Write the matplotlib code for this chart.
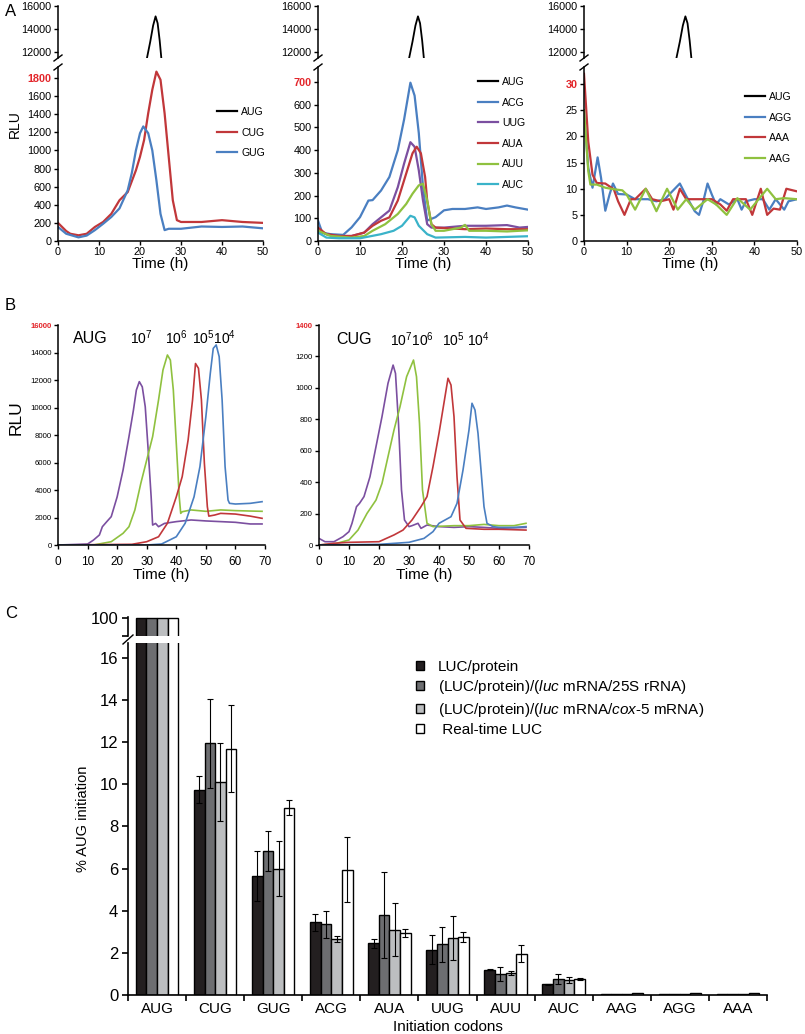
import matplotlib
matplotlib.use('Agg')
import matplotlib.pyplot as plt
from matplotlib.lines import Line2D
import numpy as np

plt.rcParams['font.family'] = ['Liberation Sans', 'DejaVu Sans']
plt.rcParams['mathtext.fontset'] = 'custom'
plt.rcParams['mathtext.rm'] = 'Liberation Sans'
plt.rcParams['mathtext.it'] = 'Liberation Sans:italic'

W, H = 805, 1034

RED = '#c1373a'
BLUE = '#4a7fc1'
PURPLE = '#7b4fa0'
GREEN = '#8fc13f'
CYAN = '#3ab3c9'
TICKRED = '#e3262b'

# ---------------- panel A data ----------------
aug_t = [21.4, 21.7, 22.5, 23.2, 23.8, 24.3, 24.8, 25.2, 25.4]
aug_v = [11000, 11480, 12900, 14300, 15100, 14500, 13000, 11480, 11000]

cug_t = [0, 2, 3, 5, 7, 9, 11, 13, 15, 17, 19, 20, 21, 22, 23, 24, 25, 26, 27, 28, 29, 30, 35, 40, 45, 50]
cug_v = [200, 110, 80, 63, 80, 155, 210, 300, 450, 540, 780, 930, 1115, 1410, 1670, 1870, 1780, 1410, 930, 450, 230, 210, 210, 230, 210, 200]
gug_t = [0, 2, 5, 7, 9, 11, 13, 15, 17, 18, 19, 20, 20.8, 22, 23, 24, 25, 26, 27, 30, 35, 40, 45, 50]
gug_v = [155, 80, 40, 60, 120, 190, 265, 360, 560, 750, 1000, 1190, 1265, 1190, 1000, 670, 300, 120, 135, 135, 160, 155, 160, 140]

acg_t = [0, 1, 3, 6, 8, 10, 12, 13, 15, 17, 19, 20.5, 22, 23, 24, 25, 26, 28, 30, 32, 35, 38, 40, 43, 45, 47, 50]
acg_v = [90, 37, 30, 27, 60, 105, 178, 180, 222, 282, 400, 535, 697, 640, 475, 237, 90, 105, 135, 141, 141, 148, 141, 148, 156, 148, 138]
uug_t = [0, 2, 5, 8, 11, 13, 15, 17, 19, 20.5, 22, 23, 24, 25, 26, 27, 30, 35, 40, 45, 48, 50]
uug_v = [45, 30, 22, 22, 37, 74, 104, 134, 237, 341, 435, 415, 311, 178, 74, 59, 59, 67, 67, 70, 59, 62]
aua_t = [0, 2, 5, 8, 11, 13, 15, 17, 19, 21, 22.5, 23.5, 24.5, 25.5, 26, 27, 28, 35, 40, 45, 50]
aua_v = [59, 30, 22, 22, 37, 67, 89, 104, 178, 297, 386, 415, 386, 282, 178, 74, 59, 52, 55, 52, 52]
auu_t = [0, 3, 8, 11, 13, 16, 19, 21, 22.5, 24, 25, 26, 27, 28, 30, 34, 35, 36, 40, 45, 50]
auu_v = [45, 22, 15, 22, 45, 74, 119, 163, 208, 245, 252, 178, 74, 45, 45, 59, 71, 45, 45, 42, 47]
auc_t = [0, 2, 5, 10, 15, 18, 20, 22, 23, 24, 26, 28, 35, 40, 45, 50]
auc_v = [37, 15, 12, 12, 30, 45, 67, 111, 104, 67, 30, 15, 18, 15, 18, 21]

agg_t = [0, 1, 2, 3.2, 4, 5, 6, 6.8, 8, 10, 12, 15, 17, 19, 20, 22.5, 24, 26, 27, 28, 29, 30, 31, 32, 34, 36, 37, 38, 40, 42, 43.5, 45, 47, 48, 50]
agg_v = [25, 14, 10.2, 16, 12.1, 5.8, 8.9, 11, 9, 8.9, 8, 8, 7.6, 8, 8.9, 11, 8.6, 5.7, 5, 7.6, 11, 8.9, 7, 8, 7, 8, 6, 7.6, 8, 8, 6, 8, 6, 7.6, 8]
aaa_t = [0, 1, 2, 3, 5, 7, 8, 9.5, 11, 12, 14.5, 16, 18, 20, 21, 22.5, 24, 26, 30, 32, 33.5, 35, 38, 39.5, 41.5, 43, 44.5, 46, 47.5, 50]
aaa_v = [32, 19, 12.7, 11.1, 11, 9.9, 7.6, 5, 8, 8, 10, 8, 7.6, 8, 6, 10, 8, 8, 8, 7, 5.8, 8, 8, 5, 10, 5, 6.2, 6, 10, 9.5]
aag_t = [0, 1, 1.5, 3, 5, 7, 9, 10, 12, 14.5, 17, 19.5, 22, 24, 26, 29, 31, 33.5, 36, 39, 43, 45, 47, 50]
aag_v = [25, 13.4, 10.8, 10.8, 10.2, 9.9, 9.7, 8.9, 6, 10, 5.7, 10, 6, 8, 6, 8, 7, 5, 8.2, 6, 10, 8, 8.2, 8]

# ---------------- panel B data ----------------
b_aug7_t = [0, 10, 12, 14, 15, 16.5, 18, 20, 22, 24, 25.5, 26.5, 27.5, 28.5, 29.5, 30.5, 31.5, 32, 33, 34, 36, 40, 45, 50, 55, 60, 65, 69]
b_aug7_v = [0, 70, 360, 730, 1330, 1700, 2060, 3500, 5450, 7880, 9800, 11270, 11880, 11500, 10060, 6900, 3500, 1450, 1570, 1330, 1570, 1700, 1820, 1750, 1700, 1650, 1530, 1530]
b_aug6_t = [0, 12, 18, 22, 24, 26, 28, 30, 32, 34, 35.5, 37, 38, 39, 40, 41, 41.5, 42, 45, 50, 55, 60, 65, 69]
b_aug6_v = [0, 0, 240, 850, 1330, 2550, 4480, 6180, 7880, 10550, 12730, 13820, 13450, 11270, 7390, 3500, 2300, 2420, 2550, 2450, 2550, 2500, 2470, 2450]
b_aug5_t = [0, 25, 30, 34, 37, 40, 42, 44, 45.5, 46.5, 47.5, 48.5, 49.5, 50.5, 51, 53, 55, 60, 65, 69]
b_aug5_v = [0, 50, 240, 600, 1580, 3500, 4970, 7640, 10550, 13200, 12850, 10550, 5940, 2790, 2100, 2180, 2300, 2250, 2100, 1940]
b_aug4_t = [0, 30, 35, 40, 43, 46, 48, 50, 51.5, 52.5, 53.5, 54.5, 55.5, 56.5, 57.5, 58, 60, 65, 69]
b_aug4_v = [0, 0, 70, 600, 1580, 3500, 5700, 9330, 12480, 14300, 14550, 13700, 10550, 5700, 3270, 3030, 2980, 3030, 3150]

b_cug7_t = [0, 2, 5, 8, 10, 11, 12.5, 13.5, 15, 17, 19, 21, 23, 24.7, 25.5, 26.5, 27.5, 28.5, 30, 31, 33, 34, 36, 40, 45, 50, 55, 60, 69]
b_cug7_v = [42, 21, 21, 53, 85, 138, 244, 265, 308, 435, 626, 817, 1029, 1145, 1092, 774, 350, 159, 117, 123, 138, 106, 127, 117, 112, 117, 112, 106, 112]
b_cug6_t = [0, 5, 10, 13, 16, 19, 21, 23, 25, 27, 29.2, 31.5, 32.5, 33.5, 34.5, 36, 38, 45, 50, 55, 60, 65, 69]
b_cug6_v = [0, 6, 32, 95, 201, 286, 392, 562, 732, 880, 1071, 1177, 1071, 774, 350, 138, 117, 123, 123, 131, 123, 123, 138]
b_cug5_t = [0, 5, 10, 20, 25, 28, 31, 34, 36, 38, 40, 42, 43, 44, 45, 46, 47, 49, 55, 60, 69]
b_cug5_v = [0, 11, 17, 21, 64, 95, 159, 244, 308, 499, 711, 944, 1061, 1018, 817, 435, 159, 106, 100, 100, 95]
b_cug4_t = [0, 20, 30, 35, 38, 40, 42, 44, 46, 48, 50, 51, 52, 53, 54, 55, 56, 58, 60, 65, 69]
b_cug4_v = [0, 4, 17, 42, 85, 138, 159, 180, 265, 477, 732, 902, 859, 711, 477, 244, 138, 117, 112, 112, 117]

# ---------------- panel C data ----------------
codons = ['AUG', 'CUG', 'GUG', 'ACG', 'AUA', 'UUG', 'AUU', 'AUC', 'AAG', 'AGG', 'AAA']
luc_protein = [100, 9.75, 5.65, 3.45, 2.45, 2.15, 1.2, 0.5, 0.04, 0.04, 0.04]
luc_protein_err = [0, 0.65, 1.2, 0.4, 0.2, 0.7, 0.03, 0.03, 0, 0, 0]
luc_25s = [100, 11.95, 6.85, 3.35, 3.8, 2.4, 1.0, 0.75, 0.04, 0.04, 0.04]
luc_25s_err = [0, 2.1, 0.95, 0.65, 2.05, 0.85, 0.35, 0.25, 0, 0, 0]
luc_cox5 = [100, 10.1, 6.0, 2.65, 3.1, 2.7, 1.05, 0.7, 0.04, 0.04, 0.04]
luc_cox5_err = [0, 1.85, 1.3, 0.15, 1.25, 1.05, 0.1, 0.15, 0, 0, 0]
realtime = [100, 11.7, 8.9, 5.95, 2.95, 2.75, 1.95, 0.75, 0.1, 0.1, 0.1]
realtime_err = [0, 2.05, 0.35, 1.55, 0.2, 0.25, 0.4, 0.05, 0, 0, 0]
c_labels = ['LUC/protein',
            r'(LUC/protein)/($\it{luc}$ mRNA/25S rRNA)',
            r'(LUC/protein)/($\it{luc}$ mRNA/$\it{cox}$-$\it{5}$ mRNA)',
            ' Real-time LUC']
c_colors = ['#231f20', '#6d6e71', '#bcbec0', 'white']

fig = plt.figure(figsize=(8.05, 10.34), dpi=100)


def box(x0, y0, x1, y1):
    # pixel box (left, top, right, bottom) -> figure rect
    return [x0 / W, 1 - y1 / H, (x1 - x0) / W, (y1 - y0) / H]


def break_marks(ax_top, ax_bot, double=True):
    x = ax_top.get_position().x0
    y_top = ax_top.get_position().y0
    y_bot = ax_bot.get_position().y1
    if double:
        for y in (y_top, y_bot):
            fig.add_artist(Line2D([x - 4 / W, x + 4 / W], [y - 3 / H, y + 3 / H],
                                  transform=fig.transFigure, color='k', lw=1))
    else:
        fig.add_artist(Line2D([x - 5 / W, x + 5 / W], [y_bot - 1 / H, y_top + 1 / H],
                              transform=fig.transFigure, color='k', lw=1))


def red_top(ax):
    lab = ax.get_yticklabels()[-1]
    lab.set_color(TICKRED)
    lab.set_fontweight('bold')


def panel_a(x0, x1, ylo_top, yticks, series, leg_xy, rlu=False):
    up = fig.add_axes(box(x0, 6, x1, 58))
    lo = fig.add_axes(box(x0, 67, x1, 241))
    up.plot(aug_t, aug_v, color='k', lw=1.3)
    up.set_xlim(0, 50)
    up.set_ylim(11480, 16000)
    up.set_yticks([12000, 14000, 16000])
    up.xaxis.set_visible(False)
    for s in ['top', 'right', 'bottom']:
        up.spines[s].set_visible(False)
    handles = [Line2D([], [], color='k', lw=1.6)]
    labels = ['AUG']
    for name, t, v, c in series:
        ln, = lo.plot(t, v, color=c, lw=1.6)
        handles.append(ln)
        labels.append(name)
    lo.set_xlim(0, 50)
    lo.set_ylim(0, ylo_top)
    lo.set_yticks(yticks)
    lo.set_xticks([0, 10, 20, 30, 40, 50])
    for s in ['top', 'right']:
        lo.spines[s].set_visible(False)
    for a in (up, lo):
        a.tick_params(labelsize=7.8, length=3, width=1, pad=1.5)
        for s in a.spines.values():
            s.set_linewidth(1.1)
    red_top(lo)
    lo.set_xlabel('Time (h)', fontsize=11, labelpad=0)
    if rlu:
        lo.set_ylabel('RLU', fontsize=10, labelpad=1)
        lo.yaxis.set_label_coords(-0.175, 0.67)
    break_marks(up, lo)
    fig.legend(handles, labels, loc='upper left',
               bbox_to_anchor=(leg_xy[0] / W, 1 - leg_xy[1] / H),
               frameon=False, fontsize=7.6, handlelength=1.9, handletextpad=0.4,
               labelspacing=1.0, borderpad=0, borderaxespad=0)


panel_a(58, 263, 1921, range(0, 1801, 200),
        [('CUG', cug_t, cug_v, RED), ('GUG', gug_t, gug_v, BLUE)],
        (217, 107), rlu=True)
panel_a(318, 528, 766, range(0, 701, 100),
        [('ACG', acg_t, acg_v, BLUE), ('UUG', uug_t, uug_v, PURPLE),
         ('AUA', aua_t, aua_v, RED), ('AUU', auu_t, auu_v, GREEN),
         ('AUC', auc_t, auc_v, CYAN)],
        (478, 77))
panel_a(584, 797, 33.3, range(0, 31, 5),
        [('AGG', agg_t, agg_v, BLUE), ('AAA', aaa_t, aaa_v, RED),
         ('AAG', aag_t, aag_v, GREEN)],
        (745, 92))


def panel_b(x0, x1, ymax, step, series, notes, rlu=False):
    ax = fig.add_axes(box(x0, 325, x1, 545))
    for t, v, c in series:
        ax.plot(t, v, color=c, lw=1.2)
    ax.set_xlim(0, 70)
    ax.set_ylim(0, ymax)
    ax.set_yticks(np.arange(0, ymax + 1, step))
    ax.set_xticks(range(0, 71, 10))
    for s in ['top', 'right']:
        ax.spines[s].set_visible(False)
    for s in ax.spines.values():
        s.set_linewidth(1.1)
    ax.tick_params(axis='y', labelsize=5.6, length=3, width=1, pad=1.5)
    ax.tick_params(axis='x', labelsize=8.5, length=3, width=1, pad=5)
    red_top(ax)
    ax.set_xlabel('Time (h)', fontsize=11, labelpad=0)
    if rlu:
        ax.set_ylabel('RLU', fontsize=12.5, labelpad=1)
        ax.yaxis.set_label_coords(-0.165, 0.58)
    for x, y, s, fs in notes:
        ax.text(x, y, s, fontsize=fs, va='center', ha='left')
    return ax


panel_b(58, 265, 16000, 2000,
        [(b_aug7_t, b_aug7_v, PURPLE), (b_aug6_t, b_aug6_v, GREEN),
         (b_aug5_t, b_aug5_v, RED), (b_aug4_t, b_aug4_v, BLUE)],
        [(5.1, 15050, 'AUG', 11.5), (24.3, 15050, r'10$^7$', 10),
         (36.2, 15050, r'10$^6$', 10), (45.3, 15050, r'10$^5$10$^4$', 10)],
        rlu=True)
panel_b(319, 529, 1400, 200,
        [(b_cug7_t, b_cug7_v, PURPLE), (b_cug6_t, b_cug6_v, GREEN),
         (b_cug5_t, b_cug5_v, RED), (b_cug4_t, b_cug4_v, BLUE)],
        [(5.7, 1305, 'CUG', 11.5), (23.7, 1305, r'10$^7$10$^6$', 10),
         (41, 1305, r'10$^5$ 10$^4$', 10)])

# ---------------- panel C ----------------
cu = fig.add_axes(box(128, 617, 767, 636))
cl = fig.add_axes(box(128, 643, 767, 995))
x = np.arange(len(codons))
bw = 0.1825
series_c = [(luc_protein, luc_protein_err), (luc_25s, luc_25s_err),
            (luc_cox5, luc_cox5_err), (realtime, realtime_err)]
bars = []
for i, (vals, errs) in enumerate(series_c):
    xi = x + (i - 1.5) * bw
    for a in (cu, cl):
        b = a.bar(xi, vals, bw, color=c_colors[i], edgecolor='k', lw=1)
    bars.append(b)
    e = np.array(errs)
    m = e > 0
    cl.errorbar(xi[m], np.array(vals)[m], yerr=e[m], fmt='none', ecolor='k',
                elinewidth=0.8, capsize=2.2, capthick=0.8)

cu.set_xlim(-0.5, 10.5)
cl.set_xlim(-0.5, 10.5)
cu.set_ylim(98.5, 100.05)
cu.set_yticks([98.5, 100])
cu.set_yticklabels(['', '100'])
cu.xaxis.set_visible(False)
for s in ['top', 'right', 'bottom']:
    cu.spines[s].set_visible(False)
cl.set_ylim(0, 16.71)
cl.set_yticks(range(0, 17, 2))
cl.set_xticks(x)
cl.set_xticklabels(codons)
cl.set_xticks(np.arange(-0.5, 11, 1), minor=True)
cl.tick_params(axis='x', which='major', length=0, labelsize=11, pad=5)
cl.tick_params(axis='x', which='minor', length=4, width=1.2)
for a in (cu, cl):
    a.tick_params(axis='y', labelsize=12, length=4, width=1.2, pad=3)
    for s in a.spines.values():
        s.set_linewidth(1.2)
for s in ['top', 'right']:
    cl.spines[s].set_visible(False)
cl.set_xlabel('Initiation codons', fontsize=11, labelpad=3)
cl.set_ylabel('% AUG initiation', fontsize=10.5, labelpad=7)
break_marks(cu, cl, double=False)
fig.legend(bars, c_labels, loc='upper left',
           bbox_to_anchor=(416 / W, 1 - 660 / H), frameon=False, fontsize=11,
           handlelength=0.55, handleheight=0.55, handletextpad=0.9,
           labelspacing=0.28, borderpad=0, borderaxespad=0)

fig.text(5 / W, 1 - 12 / H, 'A', fontsize=12, va='center')
fig.text(5 / W, 1 - 305 / H, 'B', fontsize=12, va='center')
fig.text(5 / W, 1 - 613 / H, 'C', fontsize=12, va='center')

fig.savefig('out.png', dpi=100)
